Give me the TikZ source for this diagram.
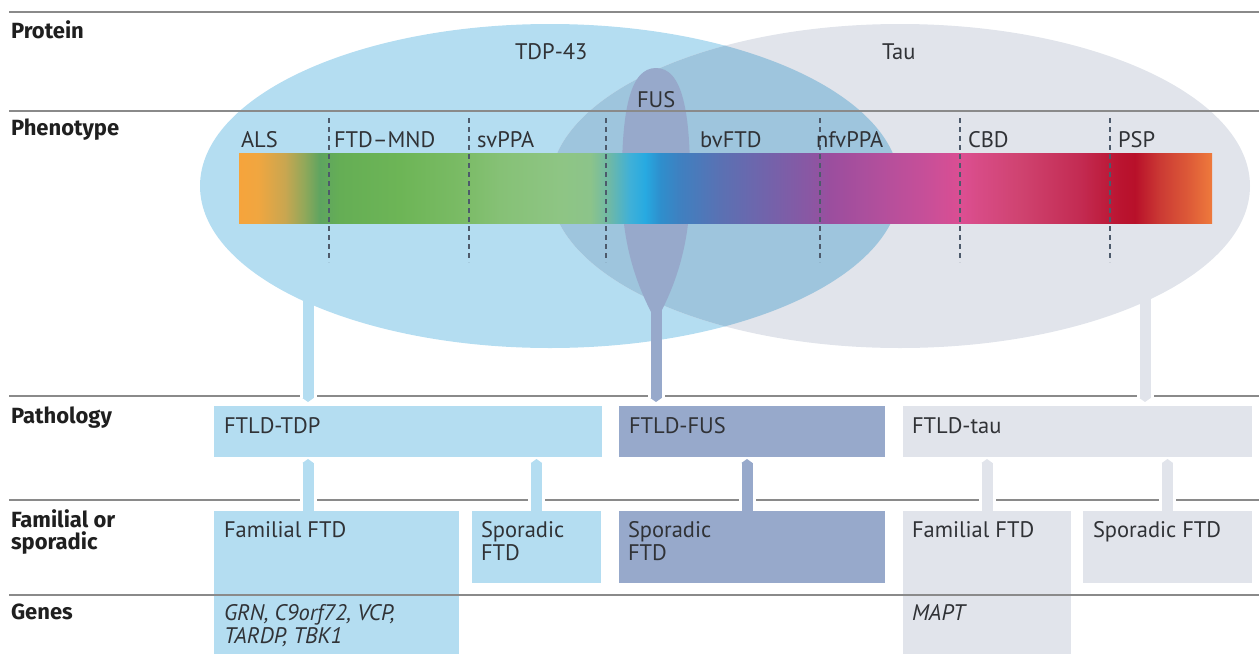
\documentclass[tikz,border=0pt]{standalone}
\usepackage{fontspec}
\setmainfont{PT Sans}
\newfontfamily\rowfont{Fira Sans}
\usetikzlibrary{arrows.meta,calc}
\definecolor{tdpc}{HTML}{B4DDF1}
\definecolor{tauc}{HTML}{E1E4EB}
\definecolor{ovlc}{HTML}{9EC5DD}
\definecolor{fusc}{HTML}{97A9CB}
\definecolor{linec}{HTML}{8A8A8A}
\definecolor{txtc}{HTML}{303236}
\definecolor{dashc}{HTML}{4D5A6B}
\definecolor{g01}{HTML}{F6A43C}
\definecolor{g02}{HTML}{F0A640}
\definecolor{g03}{HTML}{C9A650}
\definecolor{g04}{HTML}{8FA85A}
\definecolor{g05}{HTML}{5EA460}
\definecolor{g06}{HTML}{65AE55}
\definecolor{g07}{HTML}{6DB556}
\definecolor{g08}{HTML}{7ABB65}
\definecolor{g09}{HTML}{86C176}
\definecolor{g10}{HTML}{8EC584}
\definecolor{g11}{HTML}{8CC48A}
\definecolor{g12}{HTML}{6DB8A8}
\definecolor{g13}{HTML}{3FB0D8}
\definecolor{g14}{HTML}{27AAE1}
\definecolor{g15}{HTML}{2E8FCD}
\definecolor{g16}{HTML}{3F80C0}
\definecolor{g17}{HTML}{5A71B3}
\definecolor{g18}{HTML}{7462AA}
\definecolor{g19}{HTML}{8A57A3}
\definecolor{g20}{HTML}{9B4E9E}
\definecolor{g21}{HTML}{B24F9C}
\definecolor{g22}{HTML}{C94F98}
\definecolor{g23}{HTML}{DC4E92}
\definecolor{g24}{HTML}{D84C88}
\definecolor{g25}{HTML}{CF4370}
\definecolor{g26}{HTML}{C32B52}
\definecolor{g27}{HTML}{BA1430}
\definecolor{g28}{HTML}{B8102A}
\definecolor{g29}{HTML}{CB3A34}
\definecolor{g30}{HTML}{DE5C38}
\definecolor{g31}{HTML}{EE7A3C}
\pgfdeclarehorizontalshading{phenobar}{100bp}{color(0bp)=(g01); color(25bp)=(g01); color(25.98bp)=(g02); color(27.36bp)=(g03); color(28.39bp)=(g04); color(29.16bp)=(g05); color(30.19bp)=(g06); color(33.27bp)=(g07); color(36.36bp)=(g08); color(38.41bp)=(g09); color(41.50bp)=(g10); color(43.04bp)=(g11); color(44.06bp)=(g12); color(45.09bp)=(g13); color(45.86bp)=(g14); color(46.63bp)=(g15); color(47.66bp)=(g16); color(49.72bp)=(g17); color(52.29bp)=(g18); color(54.34bp)=(g19); color(55.37bp)=(g20); color(57.94bp)=(g21); color(60.51bp)=(g22); color(62.15bp)=(g23); color(62.82bp)=(g24); color(65.13bp)=(g25); color(68.22bp)=(g26); color(70.27bp)=(g27); color(71.04bp)=(g28); color(72.33bp)=(g29); color(73.87bp)=(g30); color(75bp)=(g31); color(100bp)=(g31)}
\newcommand{\gapat}[2]{\fill[white] (#1,#2) ++(-8.5,-2.5) rectangle ++(17,5);}
\begin{document}
\begin{tikzpicture}[x=1pt,y=-1pt,
  every node/.style={inner sep=0pt,outer sep=0pt},
  rowlab/.style={anchor=base west,font=\rowfont\fontsize{22}{22}\selectfont\bfseries,text=black!88,align=left},
  lab/.style={anchor=base west,font=\fontsize{22.5}{23}\selectfont,text=txtc,align=left},
  genelab/.style={lab,font=\fontsize{22.5}{23}\selectfont\itshape},
  box/.style={anchor=north west,fill=#1,minimum height=51pt},
  stembar/.style={line width=11pt,draw=#1,-{Triangle[width=11pt,length=4pt]}},
  rule/.style={line width=1.5pt,draw=linec},
  dashsep/.style={draw=dashc,line width=1.2pt,dash pattern=on 5pt off 4pt}]
\useasboundingbox (0,0) rectangle (1259,654);
% protein ellipses
\coordinate (tdpcenter) at (550,186);
\coordinate (taucenter) at (900,186);
\fill[tdpc] (tdpcenter) ellipse [x radius=350,y radius=162];
\fill[tauc] (taucenter) ellipse [x radius=350,y radius=162];
\begin{scope}
\clip (tdpcenter) ellipse [x radius=350,y radius=162];
\fill[ovlc] (taucenter) ellipse [x radius=350,y radius=162];
\end{scope}
\fill[fusc] (651,312) .. controls (640,290) and (622,250) .. (622,190) .. controls (621,110) and (630,68) .. (656,68) .. controls (682,68) and (691,110) .. (690,190) .. controls (690,250) and (672,290) .. (661,312) -- cycle;
% boxes
\node[box=tdpc,minimum width=388pt] (ftldtdp) at (214,406) {};
\node[box=fusc,minimum width=266pt] (ftldfus) at (619,406) {};
\node[box=tauc,minimum width=349pt] (ftldtau) at (903,406) {};
\node[box=tdpc,minimum width=245pt,minimum height=143pt] (famtdp) at (214,511) {};
\node[box=tdpc,minimum width=129pt,minimum height=72pt] (sportdp) at (472,511) {};
\node[box=fusc,minimum width=266pt,minimum height=72pt] (sporfus) at (619,511) {};
\node[box=tauc,minimum width=168pt,minimum height=143pt] (famtau) at (903,511) {};
\node[box=tauc,minimum width=169pt,minimum height=72pt] (sportau) at (1083,511) {};
% rules
\draw[rule] (9,12) -- (1259,12);
\draw[rule] (9,111) -- (1259,111);
\draw[rule] (9,396) -- (1259,396);
\draw[rule] (9,500) -- (1259,500);
\draw[rule] (9,595) -- (1259,595);
% stems
\coordinate (tdpfoot) at (308,290);
\coordinate (fusfoot) at (656,300);
\coordinate (taufoot) at (1145,290);
\coordinate (fussp) at (747,0);
\gapat{308}{396}\gapat{656}{396}\gapat{1145}{396}
\gapat{308}{500}\gapat{536.5}{500}\gapat{747}{500}\gapat{987}{500}\gapat{1167.5}{500}
\draw[stembar=tdpc] (tdpfoot) -- ([yshift=4pt]ftldtdp.north -| tdpfoot);
\draw[stembar=fusc] (fusfoot) -- ([yshift=4pt]ftldfus.north -| fusfoot);
\draw[stembar=tauc] (taufoot) -- ([yshift=4pt]ftldtau.north -| taufoot);
\draw[stembar=tdpc] (famtdp.north -| tdpfoot) -- ([yshift=-2pt]ftldtdp.south -| tdpfoot);
\draw[stembar=tdpc] (sportdp.north) -- ([yshift=-2pt]ftldtdp.south -| sportdp.north);
\draw[stembar=fusc] (sporfus.north -| fussp) -- ([yshift=-2pt]ftldfus.south -| fussp);
\draw[stembar=tauc] (famtau.north) -- ([yshift=-2pt]ftldtau.south -| famtau.north);
\draw[stembar=tauc] (sportau.north) -- ([yshift=-2pt]ftldtau.south -| sportau.north);
% phenotype bar
\shade[shading=phenobar] (239,153) rectangle (1212,223);
\foreach \x in {329,469,606,820,960,1110} \draw[dashsep] (\x,118) -- (\x,262);
% row labels
\node[rowlab] (rprot) at (11,38) {Protein};
\node[rowlab] (rphen) at (11,135) {Phenotype};
\node[rowlab] (rpath) at (11,423) {Pathology};
\node[rowlab] (rfam) at (11,549) {Familial or\\sporadic};
\node[rowlab] (rgen) at (11,619) {Genes};
% protein labels
\node[lab] (ltdp) at (515,59) {TDP-43};
\node[lab] (ltau) at (882,59) {Tau};
\node[lab] (lfus) at (637,107) {FUS};
% phenotype labels
\node[lab] (pals) at (241,147) {ALS};
\node[lab] (pmnd) at (334,147) {FTD–MND};
\node[lab] (psv) at (477,147) {svPPA};
\node[lab] (pbv) at (700,147) {bvFTD};
\node[lab] (pnfv) at (816,147) {nfvPPA};
\node[lab] (pcbd) at (968,147) {CBD};
\node[lab] (ppsp) at (1118,147) {PSP};
% box labels
\node[lab] at ([xshift=10pt]ftldtdp.west |- 0,433) {FTLD-TDP};
\node[lab] at ([xshift=10pt]ftldfus.west |- 0,433) {FTLD-FUS};
\node[lab] at ([xshift=9pt]ftldtau.west |- 0,433) {FTLD-tau};
\node[lab] at ([xshift=10pt]famtdp.west |- 0,537) {Familial FTD};
\node[lab] at ([xshift=9pt]sportdp.west |- 0,560) {Sporadic\\FTD};
\node[lab] at ([xshift=9pt]sporfus.west |- 0,560) {Sporadic\\FTD};
\node[lab] at ([xshift=9pt]famtau.west |- 0,537) {Familial FTD};
\node[lab] at ([xshift=10pt]sportau.west |- 0,537) {Sporadic FTD};
\node[genelab] at ([xshift=10pt]famtdp.west |- 0,643) {GRN, C9orf72, VCP,\\TARDP, TBK1};
\node[genelab] at ([xshift=9pt]famtau.west |- 0,620) {MAPT};
\end{tikzpicture}
\end{document}
